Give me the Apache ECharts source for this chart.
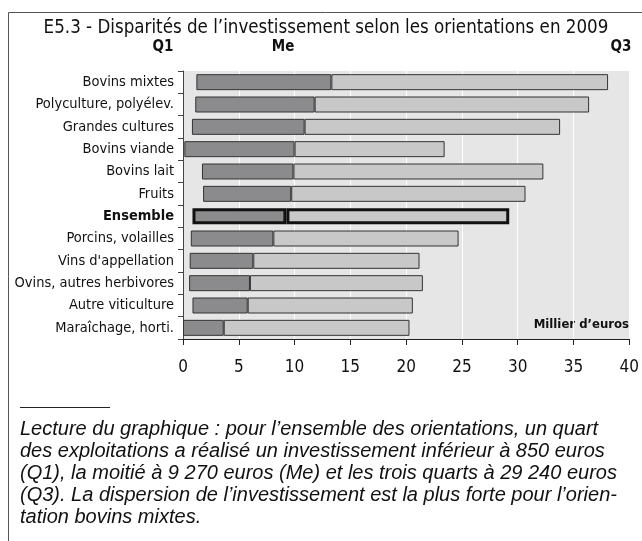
<!DOCTYPE html>
<html>
<head>
<meta charset="utf-8">
<script src="https://cdn.jsdelivr.net/npm/echarts@6/dist/echarts.min.js"></script>
<style>
  html, body { margin: 0; padding: 0; background: #fff; }
  #chart { width: 642px; height: 541px; }
</style>
</head>
<body>
<div id="chart"></div>
<script>
// orientations, de haut en bas
const categories = ['Bovins mixtes', 'Polyculture, polyélev.', 'Grandes cultures', 'Bovins viande',
  'Bovins lait', 'Fruits', 'Ensemble', 'Porcins, volailles', "Vins d'appellation",
  'Ovins, autres herbivores', 'Autre viticulture', 'Maraîchage, horti.']
// milliers d'euros
const q1 = [1.2, 1.1, 0.8, 0.12, 1.7, 1.8, 0.85, 0.7, 0.6, 0.55, 0.85, 0.0]
const me = [13.3, 11.8, 10.9, 10.0, 9.9, 9.7, 9.27, 8.1, 6.3, 6.0, 5.8, 3.65]
const q3 = [38.1, 36.4, 33.8, 23.45, 32.3, 30.7, 29.24, 24.7, 21.2, 21.5, 20.6, 20.3]
const xTicks = [0, 5, 10, 15, 20, 25, 30, 35, 40]

const narrow = '"Liberation Sans Narrow", "DejaVu Sans Condensed", sans-serif'
const isEns = name => name === 'Ensemble'

function itemStyle(i, color) {
  return {
    color: color,
    borderColor: isEns(categories[i]) ? '#111' : '#333',
    borderWidth: isEns(categories[i]) ? 3 : 1
  }
}

const chart = echarts.init(document.getElementById('chart'))
const option = {
  animation: false,
  backgroundColor: '#fff',
  grid: {
    left: 183, right: 9, top: 71, bottom: 202,
    show: true, backgroundColor: '#e6e6e6', borderWidth: 0
  },
  xAxis: {
    type: 'value',
    min: xTicks[0], max: xTicks[xTicks.length - 1], interval: 5,
    axisLine: { show: true, lineStyle: { color: '#222', width: 1 } },
    axisTick: { show: true, length: 6, lineStyle: { color: '#222' } },
    axisLabel: { color: '#111', fontFamily: narrow, fontSize: 17, margin: 20 },
    splitLine: { show: true, lineStyle: { color: '#ffffff', width: 1 } }
  },
  yAxis: {
    type: 'category',
    data: categories,
    inverse: true,
    axisLine: { show: true, lineStyle: { color: '#444', width: 1 } },
    axisTick: { show: true, length: 5, lineStyle: { color: '#444' } },
    axisLabel: {
      color: '#111', fontFamily: narrow, fontSize: 14.5, margin: 9,
      formatter: v => isEns(v) ? '{b|' + v + '}' : v,
      rich: { b: { fontFamily: narrow, fontSize: 14.5, fontWeight: 'bold', color: '#111' } }
    }
  },
  series: [
    {
      name: 'base', type: 'bar', stack: 'q', barWidth: 16, silent: true,
      itemStyle: { color: 'transparent' },
      data: q1
    },
    {
      name: 'Q1-Me', type: 'bar', stack: 'q', barWidth: 16,
      data: me.map((v, i) => ({ value: +(v - q1[i]).toFixed(3), itemStyle: itemStyle(i, '#8b8b8d') }))
    },
    {
      name: 'Me-Q3', type: 'bar', stack: 'q', barWidth: 16,
      data: q3.map((v, i) => ({ value: +(v - me[i]).toFixed(3), itemStyle: itemStyle(i, '#c8c8c9') }))
    }
  ],
  graphic: [
    { type: 'line', shape: { x1: 8.5, y1: 12.5, x2: 642, y2: 12.5 }, style: { stroke: '#555', lineWidth: 1 } },
    { type: 'line', shape: { x1: 8.5, y1: 12.5, x2: 8.5, y2: 541 }, style: { stroke: '#555', lineWidth: 1 } },
    { type: 'text', x: 326, y: 28, style: {
        text: 'E5.3 - Disparités de l\u2019investissement selon les orientations en 2009',
        font: '18.6px ' + narrow, fill: '#111', textAlign: 'center', textVerticalAlign: 'middle' } },
    { type: 'text', x: 163, y: 47, style: { text: 'Q1', font: 'bold 15px ' + narrow, fill: '#111', textAlign: 'center', textVerticalAlign: 'middle' } },
    { type: 'text', x: 283, y: 47, style: { text: 'Me', font: 'bold 15px ' + narrow, fill: '#111', textAlign: 'center', textVerticalAlign: 'middle' } },
    { type: 'text', x: 621, y: 47, style: { text: 'Q3', font: 'bold 15px ' + narrow, fill: '#111', textAlign: 'center', textVerticalAlign: 'middle' } },
    { type: 'text', x: 629, y: 325, style: { text: 'Millier d\u2019euros', font: 'bold 13px ' + narrow, fill: '#111', textAlign: 'right', textVerticalAlign: 'middle' } },
    { type: 'line', shape: { x1: 20, y1: 407.5, x2: 110, y2: 407.5 }, style: { stroke: '#222', lineWidth: 1 } },
    { type: 'text', x: 20, y: 418, style: {
        text: 'Lecture du graphique : pour l\u2019ensemble des orientations, un quart\n' +
              'des exploitations a réalisé un investissement inférieur à 850 euros\n' +
              '(Q1), la moitié à 9 270 euros (Me) et les trois quarts à 29 240 euros\n' +
              '(Q3). La dispersion de l\u2019investissement est la plus forte pour l\u2019orien-\n' +
              'tation bovins mixtes.',
        font: 'italic 20px "Liberation Sans", Arial, sans-serif', lineHeight: 22,
        fill: '#111', textAlign: 'left', textVerticalAlign: 'top' } }
  ]
}
chart.setOption(option)
</script>
</body>
</html>
